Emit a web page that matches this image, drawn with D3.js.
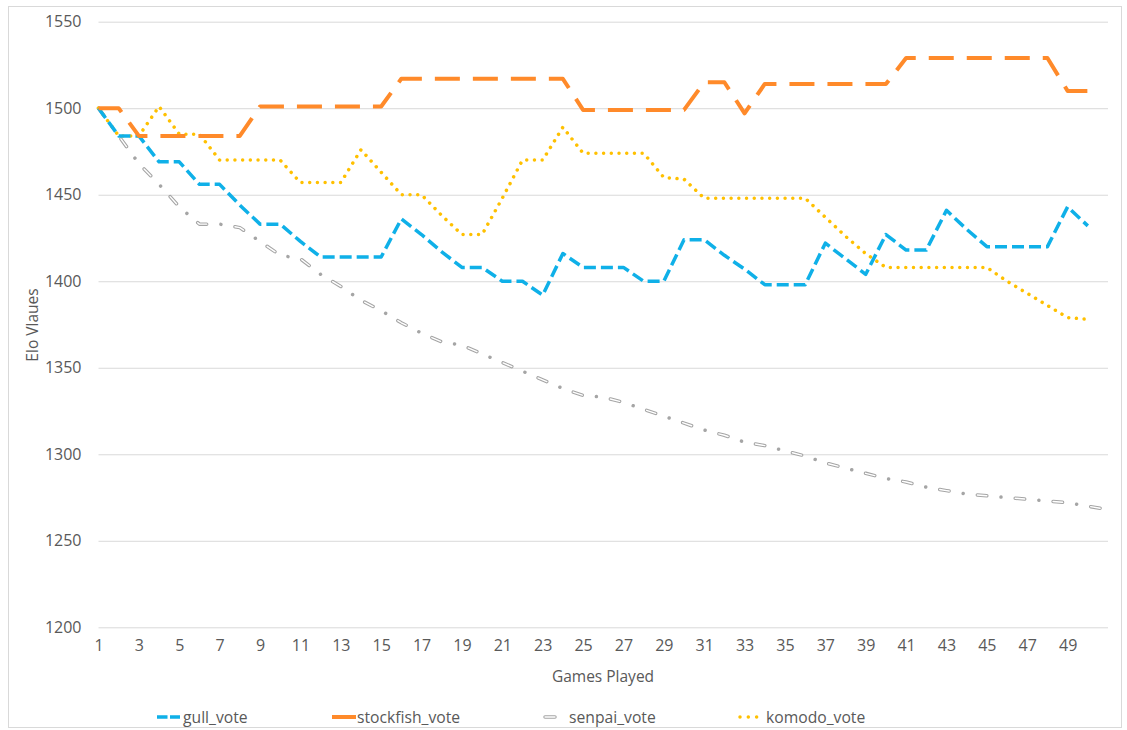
<!DOCTYPE html>
<html>
<head>
<meta charset="utf-8">
<script src="https://cdn.jsdelivr.net/npm/d3@7"></script>
<style>
  html, body { margin: 0; padding: 0; background: #fff; }
  svg { display: block; }
  text { font-family: "Open Sans", "Liberation Sans", sans-serif; fill: #595959; }
</style>
</head>
<body>
<svg id="chart" width="1127" height="730"></svg>
<script>
// ---- data ----
const games = d3.range(1, 52); // categories 1..51
const xTickLabels = d3.range(1, 50, 2);
const yTicks = [1200, 1250, 1300, 1350, 1400, 1450, 1500, 1550];

const gull_vote = [1500,1484,1484,1469,1469,1456,1456,1444,1433,1433,1423,1414,1414,1414,1414,1436,1427,1417,1408,1408,1400,1400,1392,1416,1408,1408,1408,1400,1400,1424,1424,1415,1407,1398,1398,1398,1422,1413,1404,1427,1418,1418,1441,1430,1420,1420,1420,1420,1443,1432];
const stockfish_vote = [1500,1500,1484,1484,1484,1484,1484,1484,1501,1501,1501,1501,1501,1501,1501,1517,1517,1517,1517,1517,1517,1517,1517,1517,1499,1499,1499,1499,1499,1499,1515,1515,1497,1514,1514,1514,1514,1514,1514,1514,1529,1529,1529,1529,1529,1529,1529,1529,1510,1510];
const senpai_vote = [1500,1484,1468,1456,1443,1433,1433,1431,1423,1415,1413,1404,1397,1389,1383,1376,1370,1365,1363,1358,1353,1348,1343,1338,1334,1333,1330,1326,1322,1318,1314,1311,1307,1305,1302,1299,1295,1292,1289,1286,1284,1281,1279,1277,1276,1275,1274,1273,1272,1270,1268];
const komodo_vote = [1500,1484,1484,1501,1485,1485,1470,1470,1470,1470,1457,1457,1457,1476,1463,1450,1450,1438,1427,1427,1448,1470,1470,1489,1474,1474,1474,1474,1460,1459,1448,1448,1448,1448,1448,1448,1437,1426,1416,1408,1408,1408,1408,1408,1408,1400,1393,1386,1379,1378];

const seriesNames = ["gull_vote", "stockfish_vote", "senpai_vote", "komodo_vote"];

// ---- layout ----
const svg = d3.select("#chart");
const plotL = 98.5, plotR = 1108, plotT = 21.7, plotB = 627.3;

svg.append("rect")
  .attr("x", 8.5).attr("y", 6.5).attr("width", 1113).attr("height", 721)
  .attr("fill", "#fff").attr("stroke", "#d9d9d9").attr("stroke-width", 1);

const x = d3.scalePoint().domain(games).range([plotL, plotR]);
const y = d3.scaleLinear().domain([1200, 1550]).range([plotB, plotT]);

// y axis with gridlines
const yAxis = svg.append("g")
  .attr("transform", `translate(${plotL},0)`)
  .call(d3.axisLeft(y).tickValues(yTicks).tickSize(-(plotR - plotL)).tickPadding(17).tickFormat(d3.format("d")));
yAxis.select(".domain").remove();
yAxis.selectAll(".tick line").attr("stroke", "#d9d9d9").attr("stroke-width", 1);
yAxis.selectAll(".tick text").style("font-size", "16px").attr("fill", "#595959")
  .style("font-family", '"Open Sans", sans-serif');

// x axis
const xAxis = svg.append("g")
  .attr("transform", `translate(0,${plotB})`)
  .call(d3.axisBottom(x).tickValues(xTickLabels).tickSize(0).tickPadding(12));
xAxis.select(".domain").remove();
xAxis.selectAll(".tick text").style("font-size", "16px").attr("fill", "#595959")
  .style("font-family", '"Open Sans", sans-serif');

// axis titles
svg.append("text")
  .attr("x", 603).attr("y", 682)
  .attr("text-anchor", "middle")
  .style("font-size", "15.5px")
  .text("Games Played");
svg.append("text")
  .attr("transform", "translate(38,325) rotate(-90)")
  .attr("text-anchor", "middle")
  .style("font-size", "15.5px")
  .text("Elo Vlaues");

const line = d3.line()
  .x((d, i) => x(games[i]))
  .y(d => y(d));

// senpai (hollow dash-dot)
svg.append("path").datum(senpai_vote)
  .attr("d", line).attr("fill", "none")
  .attr("stroke", "#a5a5a5").attr("stroke-width", 3.5)
  .attr("stroke-linecap", "round").attr("stroke-linejoin", "round")
  .attr("stroke-dasharray", "9.5 14.25 0.01 14.25");
svg.append("path").datum(senpai_vote)
  .attr("d", line).attr("fill", "none")
  .attr("stroke", "#ffffff").attr("stroke-width", 1.4)
  .attr("stroke-linecap", "round").attr("stroke-linejoin", "round")
  .attr("stroke-dasharray", "9.5 28.51");

// komodo (dotted)
svg.append("path").datum(komodo_vote)
  .attr("d", line).attr("fill", "none")
  .attr("stroke", "#ffc000").attr("stroke-width", 3.5)
  .attr("stroke-linecap", "round").attr("stroke-linejoin", "round")
  .attr("stroke-dasharray", "0.01 7.7");

// gull (dash)
svg.append("path").datum(gull_vote)
  .attr("d", line).attr("fill", "none")
  .attr("stroke", "#0fb0e8").attr("stroke-width", 3.5)
  .attr("stroke-linejoin", "round")
  .attr("stroke-dasharray", "12 5");

// stockfish (long dash)
svg.append("path").datum(stockfish_vote)
  .attr("d", line).attr("fill", "none")
  .attr("stroke", "#ff8a2a").attr("stroke-width", 4)
  .attr("stroke-linejoin", "round")
  .attr("stroke-dasharray", "25 13");

// ---- legend ----
const ly = 717;
const leg = svg.append("g");
// gull
leg.append("line").attr("x1", 157).attr("x2", 180).attr("y1", ly).attr("y2", ly)
  .attr("stroke", "#0fb0e8").attr("stroke-width", 3.5).attr("stroke-dasharray", "10.5 2.5");
leg.append("text").attr("x", 183).attr("y", ly + 6).style("font-size", "15.7px").text(seriesNames[0]);
// stockfish
leg.append("line").attr("x1", 332).attr("x2", 356).attr("y1", ly).attr("y2", ly)
  .attr("stroke", "#ff8a2a").attr("stroke-width", 4);
leg.append("text").attr("x", 357).attr("y", ly + 6).style("font-size", "15.7px").text(seriesNames[1]);
// senpai
leg.append("line").attr("x1", 545).attr("x2", 555).attr("y1", ly).attr("y2", ly)
  .attr("stroke", "#a5a5a5").attr("stroke-width", 3.5).attr("stroke-linecap", "round");
leg.append("line").attr("x1", 545).attr("x2", 555).attr("y1", ly).attr("y2", ly)
  .attr("stroke", "#fff").attr("stroke-width", 1.4).attr("stroke-linecap", "round");
leg.append("text").attr("x", 569).attr("y", ly + 6).style("font-size", "15.7px").text(seriesNames[2]);
// komodo
leg.append("line").attr("x1", 740).attr("x2", 758).attr("y1", ly).attr("y2", ly)
  .attr("stroke", "#ffc000").attr("stroke-width", 3.5).attr("stroke-linecap", "round")
  .attr("stroke-dasharray", "0.01 8.3");
leg.append("text").attr("x", 766).attr("y", ly + 6).style("font-size", "15.7px").text(seriesNames[3]);
</script>
</body>
</html>
